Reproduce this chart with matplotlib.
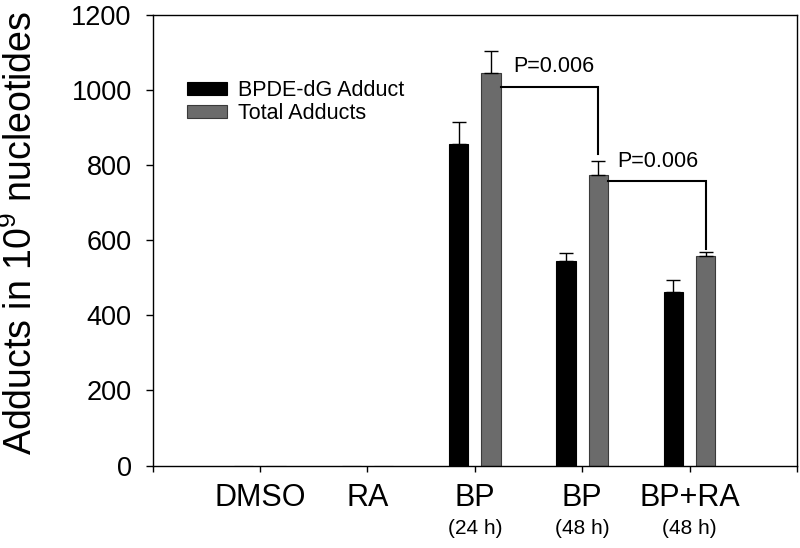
import matplotlib
matplotlib.use("Agg")
import matplotlib.pyplot as plt
import numpy as np

plt.rcParams['font.family'] = ['Liberation Sans', 'DejaVu Sans']
plt.rcParams['mathtext.fontset'] = 'custom'
plt.rcParams['mathtext.rm'] = 'Liberation Sans'
plt.rcParams['mathtext.it'] = 'Liberation Sans:italic'
plt.rcParams['mathtext.default'] = 'regular'

categories = ['DMSO', 'RA', 'BP', 'BP', 'BP+RA']
subtitles = ['', '', '(24 h)', '(48 h)', '(48 h)']
bpde = [0, 0, 857, 546, 461]
bpde_err = [0, 0, 57, 20, 32]
total = [0, 0, 1046, 773, 557]
total_err = [0, 0, 59, 39, 11]
pvals = ['P=0.006', 'P=0.006']
# brackets: (from group, to group, horizontal level, drop-to level)
brackets = [(2, 3, 1008, 831), (3, 4, 757, 578)]
ptext_pos = [(3.355, 1063), (4.33, 810)]

W, H = 800, 548
fig = plt.figure(figsize=(W/100, H/100), dpi=100)
left, right, top, bottom = 152.5, 797, 15, 465.5
ax = fig.add_axes([left/W, 1 - bottom/H, (right-left)/W, (bottom-top)/H])

x = np.arange(1, len(categories) + 1)
off = 0.15
bw = 0.18
ax.bar(x - off, bpde, bw, color='black', edgecolor='black', linewidth=0.8,
       label='BPDE-dG Adduct', zorder=2)
ax.bar(x + off, total, bw, color='#6b6b6b', edgecolor='#3a3a3a', linewidth=0.8,
       label='Total Adducts', zorder=2)
for xs, vals, errs in [(x - off, bpde, bpde_err), (x + off, total, total_err)]:
    idx = [i for i in range(len(vals)) if vals[i] > 0]
    ax.errorbar(xs[idx], np.array(vals)[idx],
                yerr=[np.zeros(len(idx)), np.array(errs)[idx]],
                fmt='none', ecolor='black', elinewidth=1.0, capsize=5, capthick=1.0, zorder=3)

for (g1, g2, hy, dy), txt, (tx, ty) in zip(brackets, pvals, ptext_pos):
    x1 = x[g1] + off + bw/2
    x2 = x[g2] + off
    ax.plot([x1, x2, x2], [hy, hy, dy], color='black', lw=1.5, zorder=4,
            solid_joinstyle='miter')
    ax.text(tx, ty, txt, fontsize=15.5, ha='left', va='center')

ax.set_xlim(0, 6)
ax.set_ylim(0, 1200)
ax.set_yticks(np.arange(0, 1201, 200))
ax.set_xticks(np.arange(0, 7))
ax.set_xticklabels([''] + categories + [''], fontsize=22)
ax.tick_params(axis='y', direction='out', length=5, width=1.0, labelsize=19.5, pad=10)
ax.tick_params(axis='x', direction='out', length=4.5, width=1.0, pad=8)
for s in ax.spines.values():
    s.set_linewidth(1.0)

for xi, sub in zip(x, subtitles):
    if sub:
        ax.annotate(sub, xy=(xi, 0), xycoords=('data', 'axes fraction'),
                    xytext=(0, -(529 - 465.5) * 0.72), textcoords='offset points',
                    ha='center', va='center', fontsize=15)

ax.set_ylabel('Adducts in 10$^9$ nucleotides', fontsize=27, va='center', ha='center')
ax.yaxis.set_label_coords((21 - left) / (right - left), (bottom - 233) / (bottom - top))

leg = ax.legend(loc='upper left', bbox_to_anchor=((187 - left) / (right - left), (bottom - 80) / (bottom - top)),
                frameon=False, fontsize=15.5, handlelength=1.86, handleheight=0.55,
                handletextpad=0.5, labelspacing=0.1, borderpad=0, borderaxespad=0)

fig.savefig('out.png', dpi=100)
